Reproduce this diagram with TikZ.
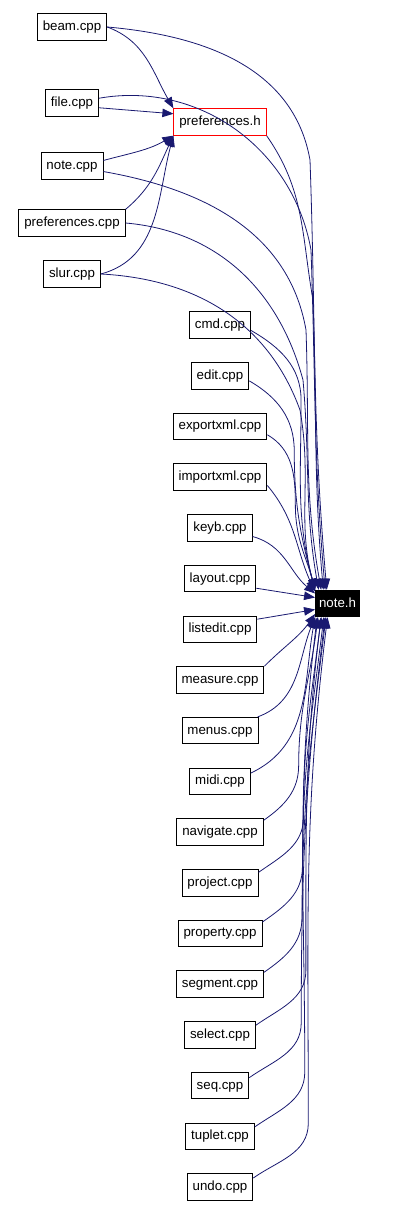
\documentclass[tikz,border=0pt]{standalone}
\usepackage{fontspec}
\setmainfont{Liberation Sans}
\usepackage{tikz}
\usetikzlibrary{arrows.meta, positioning}
\definecolor{edgeblue}{HTML}{191970}

\begin{document}
\begin{tikzpicture}[
        x=1pt, y=1pt,
        filebox/.style={draw, rectangle, line width=0.9pt, inner xsep=5.5pt, inner ysep=0pt,
            minimum height=26.5pt, text height=9.8pt, text depth=2.8pt,
            font=\fontsize{13.3}{16}\selectfont},
        dep/.style={draw=edgeblue, line width=0.8pt, -{Triangle[length=11pt,width=8.5pt]}}
    ]
        \useasboundingbox (0,0) rectangle (401,-1206);

        % left column
        \node[filebox] (beam) at (72,-27) {beam.cpp};
        \node[filebox, below=48.6pt of beam] (file) {file.cpp};
        \node[filebox, below=35.6pt of file] (note) {note.cpp};
        \node[filebox, below=29.6pt of note] (prefcpp) {preferences.cpp};
        \node[filebox, below=23.6pt of prefcpp] (slur) {slur.cpp};
        \node[filebox, draw=red] (prefh) at (220,-122) {preferences.h};
        \node[filebox, fill=black, text=white, inner xsep=3.5pt] (noteh) at (337.5,-603.5) {note.h};

        % right column
        \node[filebox] (cmd) at (220,-325) {cmd.cpp};
        \foreach \n [remember=\n as \last (initially cmd)] in {edit,exportxml,importxml,keyb,layout,listedit,measure,menus,midi,navigate,project,property,segment,select,seq,tuplet,undo}
            \node[filebox, below=23.3pt of \last] (\n) {\n.cpp};

        % into preferences.h
        \draw[dep] (beam.east) to[out=-20,in=120] (prefh.north west);
        \draw[dep] (file.-10) -- (prefh.170);
        \draw[dep] (note.10) to[out=15,in=-150] (prefh.south west);
        \draw[dep] (prefcpp.north east) to[out=40,in=-115] (prefh.south west);
        \draw[dep] (slur.east) to[out=15,in=-105] (prefh.south west);

        % into note.h from above
        \draw[dep] (beam.east) to[out=-5,in=100] (310,-160) to[out=-88,in=95] (noteh.128);
        \draw[dep] (file.10) to[out=10,in=100] (311,-250) to[out=-88,in=95] (noteh.132);
        \draw[dep] (prefh.south east) to[out=-55,in=100] (313,-300) to[out=-88,in=95] (noteh.136);
        \draw[dep] (note.-10) to[out=-10,in=100] (306,-330) to[out=-88,in=100] (noteh.140);
        \draw[dep] (prefcpp.east) to[out=-5,in=105] (303,-380) to[out=-85,in=100] (noteh.144);
        \draw[dep] (slur.east) to[out=-3,in=110] (300,-410) to[out=-80,in=105] (noteh.north west);
        \foreach \n/\dx in {cmd/50, edit/45, exportxml/28}
            \draw[dep] (\n.-10) to[out=-30,in=90] ++(\dx,-70) to[out=-90,in=105] (noteh.north west);
        \draw[dep] (importxml.-10) to[out=-50,in=115] (noteh.152);
        \draw[dep] (keyb.-15) to[out=-15,in=140] (noteh.156);
        \draw[dep] (layout.-15) -- (noteh.165);

        % into note.h from below
        \draw[dep] (listedit.15) -- (noteh.195);
        \draw[dep] (measure.north east) to[out=45,in=-125] (noteh.205);
        \draw[dep] (menus.20) to[out=20,in=-112] (noteh.south west);
        \draw[dep] (midi.15) to[out=25,in=-100] (noteh.south west);
        \foreach \n/\dx/\a in {navigate/35/215, project/45/220, property/40/225, segment/38/230, select/50/220, seq/52/228, tuplet/50/214, undo/55/234}
            \draw[dep] (\n.15) to[out=35,in=-90] ++(\dx,55) to[out=90,in=-97] (noteh.\a);
\end{tikzpicture}
\end{document}
